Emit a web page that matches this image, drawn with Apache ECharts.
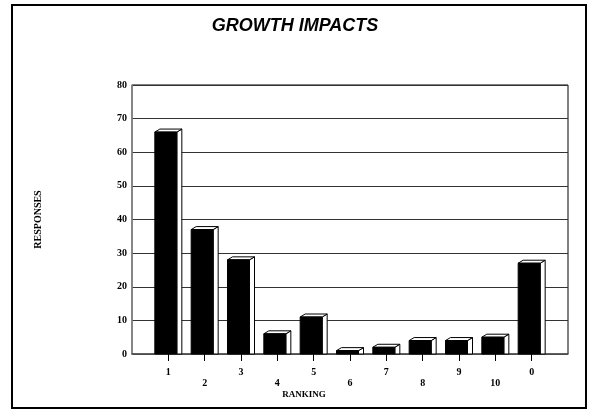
<!DOCTYPE html>
<html>
<head>
<meta charset="utf-8">
<script src="https://cdn.jsdelivr.net/npm/echarts@6/dist/echarts.min.js"></script>
<style>
  html, body { margin: 0; padding: 0; background: #fff; }
  #chart { width: 590px; height: 411px; }
</style>
</head>
<body>
<div id="chart"></div>
<script>
// ranking categories and number of responses
var rankings = ['1', '2', '3', '4', '5', '6', '7', '8', '9', '10', '0'];
var responses = [66, 37, 28, 6, 11, 1, 2, 4, 4, 5, 27];
var yTicks = [0, 10, 20, 30, 40, 50, 60, 70, 80];

// blank slots at both ends so the bars sit one step in from the frame
var axisCats = [''].concat(rankings).concat(['']);
var barData = responses.map(function (v, i) { return [i + 1, v]; });

var serif = '"Liberation Serif", "DejaVu Serif", serif';

var chart = echarts.init(document.getElementById('chart'));

// 3D box: black front, white top and side
function renderBox(params, api) {
    var top = api.coord([api.value(0), api.value(1)]);
    var base = api.coord([api.value(0), 0]);
    var x0 = top[0] - 13.5, x1 = top[0] + 8.5;
    var d = 5, h = 3;
    var y0 = top[1], yb = base[1];
    var line = { fill: '#fff', stroke: '#000', lineWidth: 1 };
    return {
        type: 'group',
        children: [
            { type: 'polygon', shape: { points: [[x1, y0], [x1 + d, y0 - h], [x1 + d, yb], [x1, yb]] }, style: line },
            { type: 'polygon', shape: { points: [[x0, y0], [x1, y0], [x1 + d, y0 - h], [x0 + d, y0 - h]] }, style: line },
            { type: 'rect', shape: { x: x0, y: y0, width: x1 - x0, height: yb - y0 }, style: { fill: '#000', stroke: '#000', lineWidth: 1 } }
        ]
    };
}

chart.setOption({
    animation: false,
    backgroundColor: '#fff',
    title: {
        text: 'GROWTH IMPACTS',
        left: 'center',
        top: 12,
        textStyle: {
            fontFamily: '"Liberation Sans", Arial, sans-serif',
            fontStyle: 'italic',
            fontWeight: 'bold',
            fontSize: 18,
            color: '#000'
        }
    },
    grid: {
        left: 132, right: 22, top: 85, bottom: 57,
        show: true, borderColor: '#000', borderWidth: 1
    },
    xAxis: {
        type: 'category',
        data: axisCats,
        boundaryGap: false,
        axisLine: { lineStyle: { color: '#555', width: 1.5 } },
        axisTick: {
            length: 7,
            interval: function (i, v) { return v !== ''; },
            lineStyle: { color: '#000' }
        },
        axisLabel: {
            interval: 0,
            margin: 13,
            fontFamily: serif,
            fontWeight: 'bold',
            fontSize: 10,
            lineHeight: 11,
            color: '#000',
            formatter: function (v, i) {
                return (i % 2 === 0) ? '\n' + v : v;
            }
        },
        splitLine: { show: false }
    },
    yAxis: {
        type: 'value',
        min: yTicks[0],
        max: yTicks[yTicks.length - 1],
        interval: 10,
        name: 'RESPONSES',
        nameLocation: 'middle',
        nameRotate: 90,
        nameGap: 89,
        nameTextStyle: { fontFamily: serif, fontWeight: 'bold', fontSize: 10, color: '#000' },
        axisLine: { show: true, lineStyle: { color: '#888', width: 1.5 } },
        axisTick: { show: false },
        axisLabel: { margin: 5, fontFamily: serif, fontWeight: 'bold', fontSize: 10, color: '#000' },
        splitLine: { lineStyle: { color: '#333', width: 1 } }
    },
    graphic: [
        {
            type: 'rect',
            shape: { x: 12, y: 5, width: 574, height: 403 },
            style: { fill: null, stroke: '#000', lineWidth: 2 },
            z: 100
        },
        {
            type: 'text',
            x: 304, y: 395,
            style: {
                text: 'RANKING',
                fontFamily: serif, fontWeight: 'bold', fontSize: 9,
                fill: '#000', align: 'center', verticalAlign: 'middle'
            }
        }
    ],
    series: [{
        name: 'Responses',
        type: 'custom',
        renderItem: renderBox,
        data: barData,
        z: 10
    }]
});
</script>
</body>
</html>
